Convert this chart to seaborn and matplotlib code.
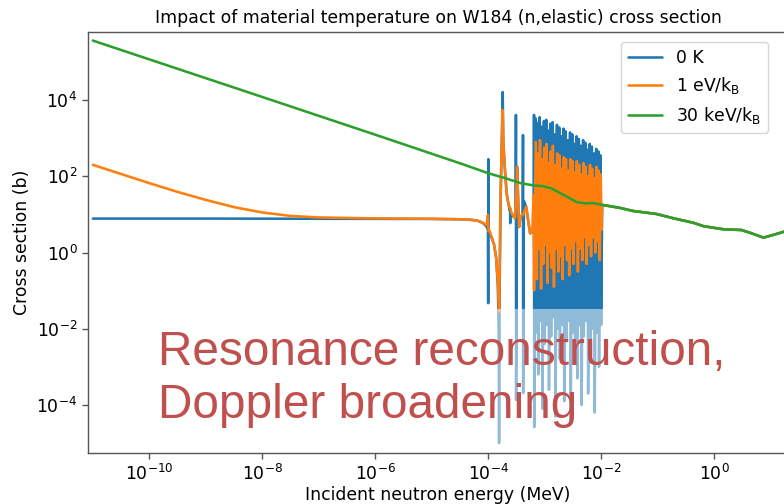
import numpy as np
import pandas as pd
import matplotlib
matplotlib.use("Agg")
import matplotlib.pyplot as plt
import seaborn as sns
from matplotlib.ticker import NullLocator

# ---------------- data (log10 energy in MeV, log10 cross section in b) ----------------
# 0 K curve: low-energy part with isolated resonances
blue_low_logE = [-11.0, -9.0, -7.0, -5.0, -4.4, -4.2, -4.1, -4.03, -4.006, -4.002, -3.999, -3.994,
                 -3.95, -3.90, -3.86, -3.83, -3.815, -3.809, -3.800, -3.780, -3.760, -3.745, -3.735,
                 -3.705, -3.675, -3.646, -3.618, -3.615, -3.612, -3.586, -3.527, -3.514, -3.511,
                 -3.508, -3.49, -3.47, -3.455, -3.43, -3.39, -3.386, -3.383, -3.37, -3.33, -3.29,
                 -3.26, -3.22, -3.195, -3.191, -3.187]
blue_low_sig = [0.89, 0.89, 0.885, 0.88, 0.87, 0.84, 0.78, 0.68, 0.58, -1.33, 2.45, 0.52,
                0.42, 0.22, -0.15, -0.9, -2.2, -5.0, -1.0, 1.6, 3.0, 4.21, 2.9,
                2.16, 1.55, 1.29, 1.10, 1.17, 0.77, 1.03, 0.90, 0.95, 3.61,
                -3.87, 2.25, 1.3, 0.67, 0.94, 1.0, 3.08, -3.69, 1.35, 1.2, 0.8,
                0.5, 0.6, 0.5, 3.61, -4.58]

# 0 K resolved-resonance forest: peaks and dips
blue_peak_logE = [-3.165, -3.128, -3.090, -3.052, -3.015, -2.975, -2.938, -2.900, -2.862, -2.822,
                  -2.785, -2.745, -2.708, -2.668, -2.630, -2.592, -2.553, -2.515, -2.475, -2.438,
                  -2.398, -2.360, -2.322, -2.283, -2.245, -2.205, -2.168, -2.128, -2.090, -2.052, -2.015]
blue_dip_logE = [-3.153, -3.116, -3.078, -3.040, -3.003, -2.963, -2.926, -2.888, -2.850, -2.810,
                 -2.773, -2.733, -2.696, -2.656, -2.618, -2.580, -2.541, -2.503, -2.463, -2.426,
                 -2.386, -2.348, -2.310, -2.271, -2.233, -2.193, -2.156, -2.116, -2.078, -2.040, -2.003]
blue_peak = [3.52, 3.40, 3.55, 3.30, 3.45, 3.48, 3.20, 3.38, 3.42, 3.10, 3.35, 3.28, 3.05, 3.25, 3.18,
             2.95, 3.15, 3.10, 2.85, 3.05, 2.98, 2.80, 2.95, 2.88, 2.70, 2.85, 2.78, 2.60, 2.72, 2.65, 2.55]
blue_dip = [-2.1, -3.2, -1.8, -4.1, -2.4, -1.9, -3.6, -2.2, -1.7, -4.3, -2.0, -2.8, -1.9, -3.9, -2.3,
            -1.8, -4.5, -2.1, -2.6, -3.3, -1.9, -4.0, -2.2, -1.8, -3.7, -2.4, -2.0, -4.2, -2.1, -3.0, -1.9]

# 1 eV/kB curve: low-energy part
orange_low_logE = [-11.0, -10.5, -10.0, -9.5, -9.0, -8.5, -8.0, -7.5, -7.0, -6.0, -5.0, -4.4, -4.2,
                   -4.1, -4.03, -4.008, -3.996, -3.98, -3.95, -3.90, -3.86, -3.83, -3.815, -3.808,
                   -3.800, -3.790, -3.775, -3.760, -3.745, -3.735, -3.705, -3.675, -3.646, -3.586,
                   -3.527, -3.505, -3.49, -3.47, -3.455, -3.43, -3.385, -3.33, -3.29, -3.26, -3.22,
                   -3.20, -3.19]
orange_low_sig = [2.30, 2.06, 1.82, 1.59, 1.38, 1.19, 1.05, 0.96, 0.92, 0.895, 0.885, 0.87, 0.84,
                  0.78, 0.72, 0.98, 0.56, 0.58, 0.45, 0.22, -0.15, -0.8, -1.4, -1.55,
                  -0.6, 0.8, 2.0, 3.0, 3.74, 2.9, 2.16, 1.55, 1.29, 1.03,
                  0.90, 1.5, 2.25, 1.3, 0.67, 0.94, 1.0, 1.2, 0.8, 0.5, 0.6,
                  1.5, -0.99]

# 1 eV/kB broadened forest
orange_peak_logE = [-3.160, -3.123, -3.085, -3.047, -3.010, -2.970, -2.933, -2.895, -2.857, -2.817,
                    -2.780, -2.740, -2.703, -2.663, -2.625, -2.587, -2.548, -2.510, -2.470, -2.433,
                    -2.393, -2.355, -2.317, -2.278, -2.240, -2.200, -2.163, -2.123, -2.085, -2.047, -2.010]
orange_dip_logE = [-3.141, -3.104, -3.066, -3.028, -2.991, -2.951, -2.914, -2.876, -2.838, -2.798,
                   -2.761, -2.721, -2.684, -2.644, -2.606, -2.568, -2.529, -2.491, -2.451, -2.414,
                   -2.374, -2.336, -2.298, -2.259, -2.221, -2.181, -2.144, -2.104, -2.066, -2.028, -1.995]
orange_peak = [2.90, 2.60, 2.95, 2.45, 2.75, 2.85, 2.35, 2.65, 2.80, 2.30, 2.60, 2.55, 2.20, 2.50, 2.45,
               2.15, 2.45, 2.40, 2.10, 2.40, 2.30, 2.05, 2.35, 2.25, 2.00, 2.30, 2.20, 1.95, 2.25, 2.15, 2.05]
orange_dip = [-0.7, 0.1, -0.95, -0.3, 0.2, -0.8, 0.0, -0.4, -0.9, 0.1, -0.5, -0.1, -0.7, 0.2, -0.2,
              -0.6, 0.1, -0.3, 0.3, -0.5, 0.1, -0.2, 0.4, -0.3, 0.2, -0.1, 0.4, 0.0, 0.3, -0.2, 0.6]

# 30 keV/kB curve (low-energy part)
green_low_logE = [-11.0, -8.0, -6.0, -5.0, -4.5, -4.0, -3.7, -3.43, -3.2, -3.03, -2.88, -2.73,
                  -2.58, -2.43, -2.28, -2.15]
green_low_sig = [5.56, 4.08, 3.09, 2.59, 2.34, 2.08, 1.95, 1.82, 1.76, 1.74, 1.68, 1.56,
                 1.44, 1.32, 1.29, 1.30]

# shared fast-energy tail (all temperatures coincide)
fast_logE = [-1.985, -1.67, -1.44, -1.02, -0.73, -0.37, -0.19, 0.16, 0.48, 0.63, 0.87, 1.04, 1.22, 1.301]
fast_sig = [1.25, 1.17, 1.09, 1.01, 0.90, 0.78, 0.69, 0.61, 0.59, 0.52, 0.39, 0.46, 0.54, 0.57]

labels = ["0 K", "1 eV/k$_\\mathrm{B}$", "30 keV/k$_\\mathrm{B}$"]


def interleave(a, b):
    out = []
    for p, q in zip(a, b):
        out += [p, q]
    return out


def series(logE, logS):
    return pd.DataFrame({"E": np.power(10.0, logE), "sigma": np.power(10.0, logS)})


blue_df = series(blue_low_logE + interleave(blue_peak_logE, blue_dip_logE) + fast_logE,
                 blue_low_sig + interleave(blue_peak, blue_dip) + fast_sig)
orange_df = series(orange_low_logE + interleave(orange_peak_logE, orange_dip_logE) + fast_logE,
                   orange_low_sig + interleave(orange_peak, orange_dip) + fast_sig)
green_df = series(green_low_logE + fast_logE, green_low_sig + fast_sig)

# ---------------- style ----------------
sns.set_style("ticks")
FS = 12.4
plt.rcParams.update({
    "font.family": ["DejaVu Sans"],
    "font.size": FS,
    "axes.titlesize": FS,
    "axes.labelsize": FS,
    "xtick.labelsize": FS,
    "ytick.labelsize": FS,
    "legend.fontsize": FS,
    "axes.edgecolor": "#555555",
    "axes.linewidth": 1.0,
    "xtick.color": "#555555",
    "ytick.color": "#555555",
    "xtick.labelcolor": "black",
    "ytick.labelcolor": "black",
    "xtick.major.size": 4.3,
    "ytick.major.size": 4.3,
    "xtick.major.width": 1.0,
    "ytick.major.width": 1.0,
    "axes.labelcolor": "black",
    "text.color": "black",
})

pal = sns.color_palette("tab10")

fig = plt.figure(figsize=(7.84, 5.04), dpi=100)
ax = fig.add_axes([88.3 / 784, 1 - 452.7 / 504, (787.8 - 88.3) / 784, (452.7 - 32.3) / 504])

lw = 1.85
for df, lab, col in [(blue_df, labels[0], pal[0]), (orange_df, labels[1], pal[1]), (green_df, labels[2], pal[2])]:
    sns.lineplot(data=df, x="E", y="sigma", estimator=None, sort=False, ax=ax,
                 color=col, lw=lw, label=lab)

ax.set_xscale("log")
ax.set_yscale("log")
ax.set_xlim(10 ** -11.08, 10 ** 1.301)
ax.set_ylim(10 ** -5.252, 10 ** 5.777)
ax.set_xticks([1e-10, 1e-8, 1e-6, 1e-4, 1e-2, 1e0])
ax.set_yticks([1e-4, 1e-2, 1e0, 1e2, 1e4])
ax.xaxis.set_minor_locator(NullLocator())
ax.yaxis.set_minor_locator(NullLocator())

ax.set_title("Impact of material temperature on W184 (n,elastic) cross section", pad=6.5)
ax.set_xlabel("Incident neutron energy (MeV)", labelpad=1.5)
ax.set_ylabel("Cross section (b)")

ax.legend(loc="upper right", bbox_to_anchor=((768 - 88.3) / 699.5, (452.7 - 41.7) / 420.4),
          borderaxespad=0, frameon=True)

fig.text(158 / 784, 1 - 330 / 504, "Resonance reconstruction,\nDoppler broadening",
         ha="left", va="top", color="#C0504D", fontsize=34.4, family=["Liberation Sans", "DejaVu Sans"],
         linespacing=1.22,
         bbox=dict(boxstyle="square,pad=0.44", facecolor="white", alpha=0.5, edgecolor="none"))

fig.savefig("out.png", dpi=100)
